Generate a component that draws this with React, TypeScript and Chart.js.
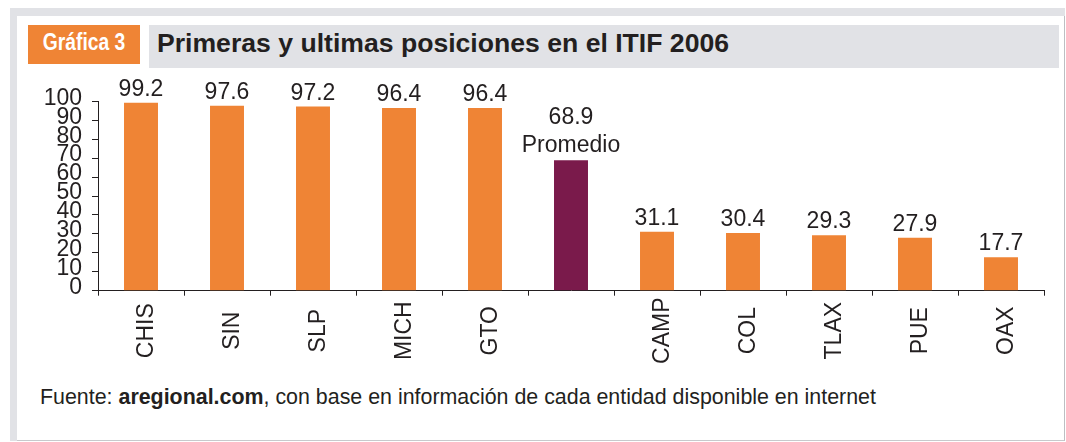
import React, { useEffect, useRef } from "react";
import { Chart, registerables } from "chart.js";

Chart.register(...registerables);

// ---- Data ----
const categories = ["CHIS", "SIN", "SLP", "MICH", "GTO", "", "CAMP", "COL", "TLAX", "PUE", "OAX"];
const values = [99.2, 97.6, 97.2, 96.4, 96.4, 68.9, 31.1, 30.4, 29.3, 27.9, 17.7];
const averageIndex = 5;
const averageLabel = "Promedio";
const yMin = 0;
const yMax = 100;
const yStep = 10;

const titleBadge = "Gráfica 3";
const titleText = "Primeras y ultimas posiciones en el ITIF 2006";

// ---- Styles ----
const FONT = "'Liberation Sans', Arial, Helvetica, sans-serif";
const TEXT = "#231F20";
const ORANGE = "#EF8435";
const MAROON = "#7A1A4B";
const GRAY = "#E1E2E6";

const valueLabelPlugin = {
  id: "valueLabels",
  afterDatasetsDraw(chart: any) {
    const ctx = chart.ctx;
    const meta = chart.getDatasetMeta(0);
    ctx.save();
    ctx.font = `23px ${FONT}`;
    ctx.fillStyle = TEXT;
    ctx.textAlign = "center";
    ctx.textBaseline = "alphabetic";
    meta.data.forEach((bar: any, i: number) => {
      const text = values[i].toFixed(1);
      if (i === averageIndex) {
        ctx.fillText(averageLabel, bar.x, bar.y - 8.5);
        ctx.fillText(text, bar.x, bar.y - 36);
      } else {
        ctx.fillText(text, bar.x, bar.y - 7);
      }
    });
    ctx.restore();
  },
};

// Category labels: rotated 90°, centred vertically in the band under the axis
const categoryLabelPlugin = {
  id: "categoryLabels",
  afterDraw(chart: any) {
    const ctx = chart.ctx;
    const xs = chart.scales.x;
    const bottom = chart.chartArea.bottom;
    ctx.save();
    ctx.font = `23px ${FONT}`;
    ctx.fillStyle = TEXT;
    ctx.textAlign = "center";
    ctx.textBaseline = "alphabetic";
    categories.forEach((label: string, i: number) => {
      if (!label) return;
      const x = xs.getPixelForValue(i);
      ctx.save();
      ctx.translate(x + 12, bottom + 40);
      ctx.rotate(-Math.PI / 2);
      ctx.fillText(label, 0, 0);
      ctx.restore();
    });
    ctx.restore();
  },
};

function BarChart() {
  const ref = useRef<HTMLCanvasElement | null>(null);
  useEffect(() => {
    if (!ref.current) return;
    const chart = new Chart(ref.current, {
      type: "bar",
      data: {
        labels: categories,
        datasets: [
          {
            data: values,
            backgroundColor: values.map((_, i) => (i === averageIndex ? MAROON : ORANGE)),
            borderWidth: 0,
            categoryPercentage: 1,
            barPercentage: 0.395,
          },
        ],
      },
      options: {
        animation: false,
        responsive: false,
        maintainAspectRatio: false,
        layout: { padding: { top: 31.3, right: 22, left: 0, bottom: 0 } },
        plugins: { legend: { display: false }, tooltip: { enabled: false } },
        scales: {
          x: {
            grid: {
              display: true,
              drawOnChartArea: false,
              drawTicks: true,
              tickLength: 5,
              color: TEXT,
              offset: true,
            },
            border: { display: true, color: TEXT, width: 1 },
            ticks: { display: false, autoSkip: false },
            afterFit: (s: any) => {
              s.height = 79.3;
            },
          },
          y: {
            min: yMin,
            max: yMax,
            grid: {
              display: true,
              drawOnChartArea: false,
              drawTicks: true,
              tickLength: 6,
              color: TEXT,
            },
            border: { display: true, color: TEXT, width: 1 },
            ticks: {
              stepSize: yStep,
              autoSkip: false,
              padding: 10,
              labelOffset: -3,
              color: TEXT,
              font: { family: FONT, size: 23 },
            },
            afterFit: (s: any) => {
              s.width = 98;
            },
          },
        },
      },
      plugins: [valueLabelPlugin, categoryLabelPlugin],
    });
    return () => chart.destroy();
  }, []);
  return (
    <canvas
      ref={ref}
      width={1066}
      height={300}
      style={{ position: "absolute", left: 0, top: 70, width: 1066, height: 300 }}
    />
  );
}

export default function App() {
  return (
    <div
      style={{
        position: "fixed",
        left: 0,
        top: 0,
        width: 1066,
        height: 442,
        background: "#fff",
        fontFamily: FONT,
        color: TEXT,
        overflow: "hidden",
      }}
    >
      {/* outer gray frame */}
      <div style={{ position: "absolute", left: 10, top: 8, width: 1055, height: 433, background: GRAY }} />
      {/* inner white panel */}
      <div
        style={{
          position: "absolute",
          left: 17,
          top: 16,
          width: 1047,
          height: 424,
          background: "#fff",
          borderRight: "1px solid #BDBEC2",
          borderBottom: "1px solid #C8C9CC",
        }}
      />
      {/* badge */}
      <div
        style={{
          position: "absolute",
          left: 28,
          top: 25,
          width: 112,
          height: 39,
          background: ORANGE,
        }}
      />
      <div
        style={{
          position: "absolute",
          left: 28,
          top: 30.5,
          width: 112,
          textAlign: "center",
          fontWeight: 700,
          fontSize: 23.5,
          lineHeight: "23.5px",
          color: "#fff",
          whiteSpace: "nowrap",
          transform: "scaleX(0.82)",
          transformOrigin: "50% 50%",
        }}
      >
        {titleBadge}
      </div>
      {/* title box */}
      <div style={{ position: "absolute", left: 149, top: 25, width: 910, height: 43, background: GRAY }} />
      <div
        style={{
          position: "absolute",
          left: 157,
          top: 30.2,
          fontWeight: 700,
          fontSize: 26.6,
          lineHeight: "26.6px",
          whiteSpace: "nowrap",
          color: TEXT,
        }}
      >
        {titleText}
      </div>
      <BarChart />
      {/* footer */}
      <div
        style={{
          position: "absolute",
          left: 40,
          top: 386.5,
          fontSize: 21.4,
          lineHeight: "21.4px",
          whiteSpace: "nowrap",
          color: TEXT,
        }}
      >
        Fuente: <b>aregional.com</b>, con base en información de cada entidad disponible en internet
      </div>
    </div>
  );
}
